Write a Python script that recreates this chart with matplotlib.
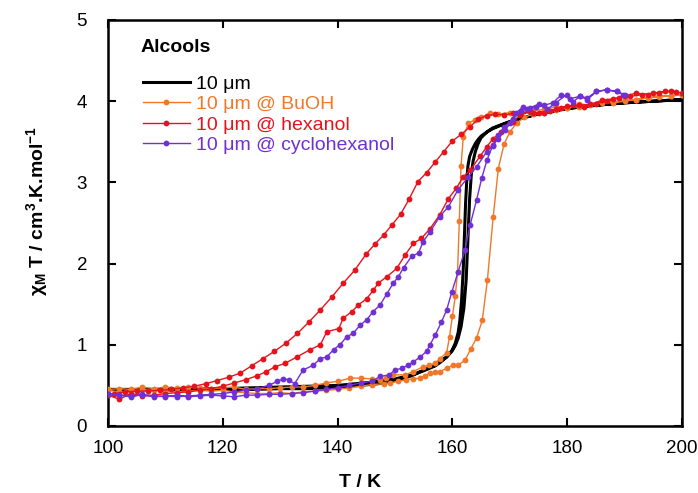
import matplotlib
matplotlib.use("Agg")
import matplotlib.pyplot as plt

plt.rcParams['font.family'] = ['Liberation Sans', 'DejaVu Sans']
plt.rcParams['mathtext.fontset'] = 'custom'
plt.rcParams['mathtext.rm'] = 'Liberation Sans:bold'
plt.rcParams['mathtext.it'] = 'Liberation Sans:bold'
plt.rcParams['mathtext.bf'] = 'Liberation Sans:bold'

# ---------------- data ----------------
labels = ["10 μm", "10 μm @ BuOH", "10 μm @ hexanol", "10 μm @ cyclohexanol"]
colors = ["#000000", "#F07828", "#E5141C", "#7030D4"]

# 10 um (black) cooling then heating
T_black_cool = [200, 195, 190, 185, 180, 176, 172, 169, 167, 166, 165, 164.5, 164, 163.5, 163, 162.7, 162.5,
                162.3, 162.1, 161.9, 161.6, 161.3, 161, 160.5, 160, 159.5, 159, 158, 157, 156, 155, 153, 150,
                147, 144, 140, 135, 130, 125, 120, 115, 110, 105, 100]
chi_black_cool = [4.02, 4.00, 3.98, 3.95, 3.91, 3.86, 3.79, 3.72, 3.66, 3.62, 3.57, 3.53, 3.48, 3.41, 3.32, 3.20, 3.02,
                  2.75, 2.35, 1.95, 1.55, 1.30, 1.15, 1.02, 0.94, 0.89, 0.85, 0.80, 0.75, 0.72, 0.69, 0.62, 0.56,
                  0.52, 0.50, 0.48, 0.46, 0.46, 0.45, 0.45, 0.45, 0.45, 0.45, 0.45]
T_black_heat = [100, 110, 120, 130, 140, 146, 150, 153, 155, 157, 158, 159, 160, 160.5, 161, 161.5, 162, 162.4,
                162.7, 163, 163.3, 163.6, 164, 164.5, 165, 166, 167, 168.5, 170, 173, 176, 180, 185, 190, 195, 200]
chi_black_heat = [0.45, 0.45, 0.46, 0.48, 0.50, 0.54, 0.58, 0.63, 0.68, 0.74, 0.79, 0.85, 0.93, 0.99, 1.08, 1.22,
                  1.45, 1.80, 2.30, 2.80, 3.10, 3.26, 3.38, 3.48, 3.55, 3.62, 3.67, 3.71, 3.75, 3.81, 3.86, 3.91,
                  3.95, 3.98, 4.00, 4.02]

# 10 um @ BuOH (orange)
T_buoh_cool = [200, 198, 196, 194, 192, 190, 188, 186, 184, 182, 180, 178, 176, 174, 172, 170, 168, 166.6, 165,
               163.9, 162.8, 161.9, 161.5, 161.2, 160.9, 160.5, 160, 159.5, 159, 157.8, 157, 156, 154.9, 153.2,
               151.7, 149.7, 148.5, 147.4, 146, 144, 142.2, 140, 138, 136, 134, 132, 130, 128, 126, 124, 122,
               120, 118, 116, 114, 112, 110, 108, 106, 104, 102, 100]
chi_buoh_cool = [4.08, 4.06, 4.07, 4.04, 4.02, 4.00, 3.98, 3.99, 3.95, 3.97, 3.92, 3.93, 3.90, 3.88, 3.87, 3.86,
                 3.84, 3.85, 3.80, 3.77, 3.73, 3.56, 3.20, 2.52, 1.90, 1.60, 1.35, 1.10, 0.90, 0.83, 0.77, 0.75,
                 0.73, 0.67, 0.63, 0.63, 0.59, 0.57, 0.58, 0.59, 0.59, 0.55, 0.53, 0.50, 0.48, 0.48, 0.47, 0.46,
                 0.46, 0.45, 0.48, 0.47, 0.46, 0.47, 0.48, 0.47, 0.48, 0.46, 0.48, 0.45, 0.46, 0.45]
T_buoh_heat = [100, 102, 104, 106, 108, 110, 112, 114, 116, 118, 120, 122, 124, 126, 128, 130, 132, 134, 136,
               138, 140, 142, 144, 146, 148, 149.1, 150.5, 152, 153.2, 154.4, 155.3, 156.1, 157, 157.8, 159,
               160.1, 161, 162.2, 163.2, 164.2, 165.2, 166.1, 167.1, 168, 169, 170, 171.2, 172.5, 174, 176, 178,
               180, 182, 184, 186, 188, 190, 192, 194, 196, 198, 200]
chi_buoh_heat = [0.44, 0.42, 0.43, 0.45, 0.44, 0.43, 0.42, 0.43, 0.44, 0.43, 0.44, 0.42, 0.41, 0.40, 0.40, 0.41,
                 0.40, 0.42, 0.43, 0.44, 0.45, 0.47, 0.49, 0.51, 0.52, 0.53, 0.55, 0.57, 0.58, 0.59, 0.62, 0.65,
                 0.66, 0.67, 0.71, 0.75, 0.75, 0.81, 0.95, 1.08, 1.30, 1.80, 2.57, 3.17, 3.47, 3.62, 3.73, 3.80,
                 3.84, 3.86, 3.89, 3.92, 3.93, 3.96, 3.98, 3.99, 4.01, 4.02, 4.04, 4.05, 4.07, 4.08]

# 10 um @ hexanol (red)
T_hex_cool = [200, 198, 196, 194, 192, 190, 188, 186, 184, 182, 180, 178, 176, 174, 172, 170.5, 169, 167.5, 166,
              164.5, 163, 161.5, 160, 158.5, 157, 155.5, 154, 152.5, 151, 149.5, 148, 146.5, 145, 143, 141, 139,
              137, 135, 133, 131, 129, 127, 125, 123, 121, 119, 117, 115, 113, 111, 109, 107, 105, 103, 101]
chi_hex_cool = [4.10, 4.13, 4.10, 4.08, 4.10, 4.06, 4.03, 4.01, 3.96, 3.95, 3.94, 3.90, 3.86, 3.85, 3.86, 3.85,
                3.83, 3.84, 3.82, 3.78, 3.68, 3.59, 3.51, 3.38, 3.25, 3.12, 3.01, 2.80, 2.61, 2.48, 2.35, 2.24,
                2.12, 1.92, 1.76, 1.59, 1.43, 1.28, 1.14, 1.02, 0.92, 0.83, 0.74, 0.65, 0.60, 0.56, 0.52, 0.49,
                0.47, 0.45, 0.44, 0.43, 0.43, 0.42, 0.40]
T_hex_heat = [100, 102, 104, 106, 108, 110, 112, 114, 116, 118, 120, 122, 124, 126, 127.6, 129.1, 130.8, 132.9,
              135.2, 137, 138.1, 140.2, 141, 142.5, 143.6, 145.1, 146.2, 147.1, 148.6, 150.3, 151.7, 153.2, 154.6,
              156.1, 157.8, 159.3, 160.7, 161.9, 163.1, 164.8, 166, 167.1, 168.5, 170.6, 171.8, 173.5, 175, 177,
              179, 181, 183, 185, 187, 189, 191, 193, 195, 197, 199]
chi_hex_heat = [0.38, 0.33, 0.40, 0.37, 0.38, 0.40, 0.41, 0.42, 0.44, 0.46, 0.49, 0.53, 0.57, 0.62, 0.67, 0.73,
                0.77, 0.85, 0.94, 1.00, 1.16, 1.20, 1.33, 1.41, 1.49, 1.57, 1.67, 1.76, 1.84, 1.94, 2.10, 2.25,
                2.31, 2.43, 2.60, 2.80, 2.93, 3.07, 3.15, 3.32, 3.44, 3.54, 3.62, 3.75, 3.83, 3.88, 3.85, 3.88,
                3.92, 3.95, 3.93, 3.97, 4.00, 4.04, 4.06, 4.08, 4.10, 4.12, 4.11]

# 10 um @ cyclohexanol (purple)
T_cyc_cool = [190, 188.6, 186.9, 185.1, 183.5, 182.2, 180.5, 179, 177.5, 176, 174.5, 173, 172.3, 171, 170, 169.2,
              168, 167.1, 166, 164.2, 162.8, 161, 159.3, 157.8, 156.1, 154.9, 154.1, 152.9, 151.5, 150.6, 149.7,
              148.6, 147.4, 146.2, 145.1, 143.9, 142.7, 141.6, 140.4, 139.3, 138.1, 137, 135.8, 134, 132.5, 131.5,
              130.5, 129.5, 128, 126, 124, 122, 120, 118, 116, 114, 112, 110, 108, 106, 104, 102, 100]
chi_cyc_cool = [4.08, 4.12, 4.14, 4.12, 4.02, 4.06, 4.03, 4.08, 3.98, 3.95, 3.93, 3.90, 3.93, 3.85, 3.73, 3.65,
                3.54, 3.46, 3.38, 3.19, 3.07, 2.91, 2.70, 2.58, 2.39, 2.27, 2.13, 2.09, 1.95, 1.84, 1.76, 1.63,
                1.49, 1.41, 1.31, 1.24, 1.14, 1.10, 1.00, 0.94, 0.85, 0.83, 0.75, 0.69, 0.52, 0.57, 0.58, 0.55,
                0.50, 0.46, 0.44, 0.42, 0.40, 0.39, 0.38, 0.37, 0.36, 0.37, 0.36, 0.38, 0.37, 0.38, 0.39]
T_cyc_heat = [100, 102, 104, 106, 108, 110, 112, 114, 116, 118, 120, 122, 124, 126, 128, 130, 132, 134, 136, 138,
              140, 142, 144, 146, 147.4, 149, 150, 151.2, 152.3, 153.2, 154.4, 155.5, 156.1, 157, 158.1, 159,
              159.9, 161, 162.2, 163.1, 164.2, 165.1, 166, 167, 168, 169, 170.5, 172, 173.5, 175, 176.5, 178,
              179.9, 181, 182.2, 183.5, 185.1, 186.9, 188.6, 189.8]
chi_cyc_heat = [0.40, 0.38, 0.36, 0.39, 0.37, 0.36, 0.38, 0.36, 0.37, 0.38, 0.37, 0.36, 0.38, 0.38, 0.39, 0.39,
                0.40, 0.41, 0.43, 0.45, 0.47, 0.50, 0.53, 0.55, 0.61, 0.63, 0.69, 0.71, 0.75, 0.79, 0.85, 0.92,
                1.00, 1.12, 1.28, 1.43, 1.65, 1.90, 2.17, 2.48, 2.78, 3.05, 3.27, 3.45, 3.58, 3.68, 3.78, 3.88,
                3.92, 3.96, 3.90, 3.98, 4.08, 3.99, 4.06, 4.04, 4.12, 4.14, 4.12, 4.08]

x_ticks = [100, 120, 140, 160, 180, 200]
y_ticks = [0, 1, 2, 3, 4, 5]

# ---------------- figure ----------------
fig = plt.figure(figsize=(6.98, 4.93), dpi=100)
ax = fig.add_axes([108 / 698, 1 - 426 / 493, (682 - 108) / 698, (426 - 20) / 493])

series = [
    (T_black_cool + T_black_heat, chi_black_cool + chi_black_heat),
    (T_buoh_cool + T_buoh_heat, chi_buoh_cool + chi_buoh_heat),
    (T_hex_cool + T_hex_heat, chi_hex_cool + chi_hex_heat),
    (T_cyc_cool + T_cyc_heat, chi_cyc_cool + chi_cyc_heat),
]

handles = []
for i, ((T, chi), lab, col) in enumerate(zip(series, labels, colors)):
    if i == 0:
        h, = ax.plot(T, chi, color=col, lw=2.2, label=lab, zorder=2)
    else:
        h, = ax.plot(T, chi, color=col, lw=1.0, marker='o', markersize=4.2,
                     markeredgewidth=0, label=lab, zorder=2 + i)
    handles.append(h)

ax.set_xlim(100, 200)
ax.set_ylim(0, 5)
ax.set_xticks(x_ticks)
ax.set_yticks(y_ticks)
ax.tick_params(axis='both', which='both', direction='in', length=6, width=1.5,
               top=True, right=True, labelsize=13.5)
ax.tick_params(axis='x', pad=10)
ax.tick_params(axis='y', pad=15)
for sp in ax.spines.values():
    sp.set_linewidth(1.8)

ax.set_xlabel("T / K", fontsize=14, fontweight='bold')
ax.xaxis.set_label_coords((360 - 108) / 574, -(474 - 426) / 406)
ax.set_ylabel(r"$\chi_{M}$ T / cm$^{3}$.K.mol$^{-1}$", fontsize=14, fontweight='bold')
ax.yaxis.set_label_coords(-(108 - 50) / 574, (426 - 211) / 406)

ax.text((141 - 108) / 574, (426 - 47) / 406, "Alcools", transform=ax.transAxes,
        fontsize=14, fontweight='bold', ha='left', va='center')

leg = ax.legend(handles=handles, loc='upper left', bbox_to_anchor=((143 - 108) / 574, (426 - 75) / 406),
                frameon=False, fontsize=14, handlelength=2.4, handletextpad=0.35,
                labelspacing=0.15, borderpad=0, borderaxespad=0, labelcolor='linecolor')

fig.savefig("out.png", dpi=100)
